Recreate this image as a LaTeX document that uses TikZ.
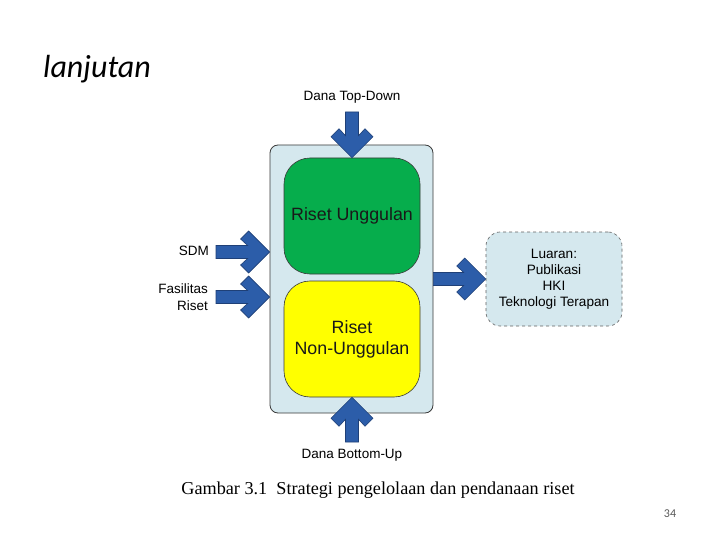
\documentclass[tikz,border=0pt]{standalone}
\usepackage{fontspec}
\setmainfont{Liberation Sans}
\newfontfamily\capserif{Liberation Serif}
\newfontfamily\calib{Carlito}
\usetikzlibrary{calc}
\definecolor{arrowblue}{HTML}{2C5DA9}
\definecolor{arrowedge}{HTML}{1F4077}
\definecolor{panelblue}{HTML}{D5E8EE}
\definecolor{boxgreen}{HTML}{06AD4C}
\definecolor{boxyellow}{HTML}{FFFF00}
\definecolor{edgegray}{HTML}{3A3A3A}
\tikzset{
  outerbox/.style={draw=edgegray, line width=0.8pt, fill=panelblue, rounded corners=8pt, inner sep=0pt},
  innerbox/.style={draw=edgegray, line width=0.6pt, rounded corners=26pt, inner sep=0pt,
    minimum width=136pt, font=\fontsize{17.8}{21}\selectfont, align=center, text=black!90},
  outbox/.style={draw=edgegray!80, dashed, line width=0.6pt, fill=panelblue, rounded corners=14pt,
    inner sep=0pt, minimum width=136pt, minimum height=94pt, align=center,
    font=\fontsize{13.6}{16}\selectfont},
  lbl/.style={font=\fontsize{13.5}{16.5}\selectfont, inner sep=0pt},
  blockarrowstyle/.style={fill=arrowblue, draw=arrowedge, line width=0.6pt, line join=miter},
}
\newcommand\blockarrow[2]{%
  \path[blockarrowstyle] let \p1=(#1), \p2=(#2),
    \n1={atan2(\y2-\y1,\x2-\x1)}, \n2={veclen(\x2-\x1,\y2-\y1)} in
    [shift={(\p2)}, rotate=\n1]
    (0,0) -- (-21,21) -- (-29,13) -- (-22,6.5) -- (-\n2,6.5) -- (-\n2,-6.5)
    -- (-22,-6.5) -- (-29,-13) -- (-21,-21) -- cycle;}
\begin{document}
\begin{tikzpicture}[x=1pt,y=-1pt]
\useasboundingbox[fill=white] (0,0) rectangle (720,540);

% title
\node[font=\calib\itshape\fontsize{32}{36}\selectfont, anchor=base west, inner sep=0pt] (title) at (43,78) {lanjutan};

% panel and boxes
\node[outerbox, minimum width=163pt, minimum height=268pt] (outer) at (351.5,279) {};
\node[innerbox, fill=boxgreen, minimum height=116pt] (green) at (352,216) {Riset Unggulan};
\node[innerbox, fill=boxyellow, minimum height=116pt] (yellow) at (352,339) {\raisebox{-2pt}{\parbox{130pt}{\centering Riset\\Non-Unggulan}}};

% output box
\node[outbox] (output) at (554,279) {Luaran:\\Publikasi\\HKI\\Teknologi Terapan};

% labels
\node[lbl] (topL) at (352,97) {Dana Top-Down};
\node[lbl] (botL) at (352,455) {Dana Bottom-Up};
\node[lbl, anchor=east] (sdm) at (209,251) {SDM};
\node[lbl, anchor=east, align=right] (fas) at (208,297) {Fasilitas\\Riset};

% arrow tails
\coordinate (topT) at (352,112);
\coordinate (botT) at (352,442);
\coordinate (sdmT) at (216,252);
\coordinate (fasT) at (216,297);
\coordinate (outT) at (outer.east |- output.west);

% arrows
\blockarrow{topT}{green.north}
\blockarrow{botT}{yellow.south}
\blockarrow{sdmT}{outer.west |- sdmT}
\blockarrow{fasT}{outer.west |- fasT}
\blockarrow{outT}{output.west}

% caption
\node[font=\capserif\fontsize{18.2}{22}\selectfont, inner sep=0pt] (caption) at (378,490) {Gambar 3.1\ \ Strategi pengelolaan dan pendanaan riset};

% page number
\node[font=\calib\fontsize{12}{14}\selectfont, text=black!65, inner sep=0pt] (page) at (670,514) {34};
\end{tikzpicture}
\end{document}
